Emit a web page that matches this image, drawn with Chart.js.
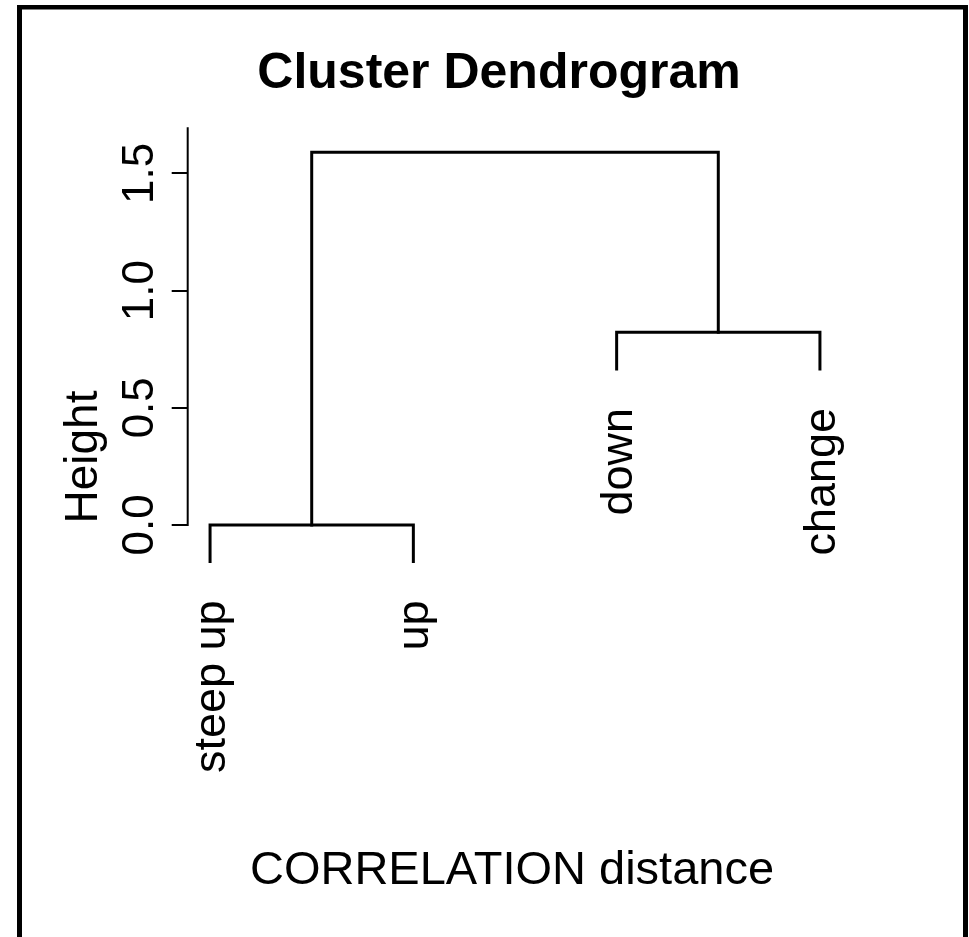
<!DOCTYPE html>
<html>
<head>
<meta charset="utf-8">
<script src="https://cdn.jsdelivr.net/npm/chart.js@4.4.1/dist/chart.umd.min.js"></script>
<style>
  html, body { margin: 0; padding: 0; background: #fff; overflow: hidden; }
  #wrap { width: 969px; height: 937px; position: relative; }
</style>
</head>
<body>
<div id="wrap"><canvas id="myChart"></canvas></div>
<script>
// leaves in plotting order
var leafLabels = ['steep up', 'up', 'down', 'change'];
var leafOrder = [1, 2, 3, 4];
// merges, R hclust style: negative = leaf, positive = earlier merge
var mergeLeft = [-1, -3, 1];
var mergeRight = [-2, -4, 2];
var mergeHeight = [0.0, 0.822, 1.59];
var hang = 0.156;
var yTicks = [0, 0.5, 1, 1.5];

var FONT = '"Liberation Sans", Arial, Helvetica, sans-serif';

var leafBottom = [];
var nodeX = [];
var segments = [];

function childX(c) {
    return c < 0 ? leafOrder[-c - 1] : nodeX[c - 1];
}

for (var k = 0; k < mergeHeight.length; k++) {
    var h = mergeHeight[k];
    var l = mergeLeft[k], r = mergeRight[k];
    var xl = childX(l), xr = childX(r);
    var bl = l < 0 ? h - hang : mergeHeight[l - 1];
    var br = r < 0 ? h - hang : mergeHeight[r - 1];
    if (l < 0) leafBottom[-l - 1] = bl;
    if (r < 0) leafBottom[-r - 1] = br;
    nodeX[k] = (xl + xr) / 2;
    segments.push([
        { x: xl, y: bl }, { x: xl, y: h }, { x: xr, y: h }, { x: xr, y: br }
    ]);
}

var rStyle = {
    id: 'rStyle',
    beforeDraw: function(chart) {
        var ctx = chart.ctx;
        ctx.save();
        ctx.fillStyle = '#fff';
        ctx.fillRect(0, 0, chart.width, chart.height);
        ctx.fillStyle = '#000';
        ctx.fillRect(17, 5, 951, 4.5);
        ctx.fillRect(17, 5, 5, 932);
        ctx.fillRect(963, 5, 5, 932);
        ctx.restore();
    },
    afterDraw: function(chart) {
        var ctx = chart.ctx;
        var xs = chart.scales.x, ys = chart.scales.y;
        var area = chart.chartArea;
        ctx.save();
        ctx.fillStyle = '#000';
        ctx.strokeStyle = '#000';

        // y axis line, from 0 up to the top of the plot region
        ctx.lineWidth = 2;
        ctx.beginPath();
        ctx.moveTo(area.left, ys.getPixelForValue(yTicks[0]) + 1);
        ctx.lineTo(area.left, area.top);
        ctx.stroke();

        // title
        ctx.textAlign = 'center';
        ctx.textBaseline = 'alphabetic';
        ctx.font = 'bold 50px ' + FONT;
        ctx.fillText('Cluster Dendrogram', 499, 88);

        ctx.font = '47px ' + FONT;
        ctx.fillText('CORRELATION distance', 512, 884);

        // rotated texts
        function vtext(str, x, y, align, font) {
            ctx.save();
            ctx.translate(x, y);
            ctx.rotate(-Math.PI / 2);
            ctx.font = font;
            ctx.textAlign = align;
            ctx.fillText(str, 0, 0);
            ctx.restore();
        }

        vtext('Height', 97, 457, 'center', '46px ' + FONT);

        ys.ticks.forEach(function(t) {
            vtext(t.value.toFixed(1), 153, ys.getPixelForValue(t.value), 'center', '44px ' + FONT);
        });

        leafLabels.forEach(function(lab, i) {
            var px = xs.getPixelForValue(leafOrder[i]);
            var py = ys.getPixelForValue(leafBottom[i]);
            vtext(lab, px + 15, py + 39, 'right', '45px ' + FONT);
        });
        ctx.restore();
    }
};

var ctx = document.getElementById('myChart');
var myChart = new Chart(ctx, {
    type: 'scatter',
    data: {
        datasets: segments.map(function(seg) {
            return {
                data: seg,
                showLine: true,
                borderColor: '#000',
                borderWidth: 3,
                pointRadius: 0,
                tension: 0,
                borderJoinStyle: 'miter',
                borderCapStyle: 'square'
            };
        })
    },
    plugins: [rStyle],
    options: {
        responsive: true,
        maintainAspectRatio: false,
        animation: false,
        layout: {
            padding: { left: 171.7, top: 127.3, right: 126.7, bottom: 130.9 }
        },
        plugins: {
            legend: { display: false },
            tooltip: { enabled: false },
            title: { display: false }
        },
        scales: {
            x: {
                type: 'linear',
                min: 0.89,
                max: 4.11,
                display: false
            },
            y: {
                type: 'linear',
                min: -1.2,
                max: 1.697,
                afterBuildTicks: function(scale) {
                    scale.ticks = yTicks.map(function(v) { return { value: v }; });
                },
                afterFit: function(scale) {
                    scale.width = 16;
                },
                ticks: { display: false },
                border: { display: false },
                grid: {
                    drawOnChartArea: false,
                    drawTicks: true,
                    tickLength: 16,
                    color: '#000',
                    lineWidth: 2
                }
            }
        }
    }
});
</script>
</body>
</html>
